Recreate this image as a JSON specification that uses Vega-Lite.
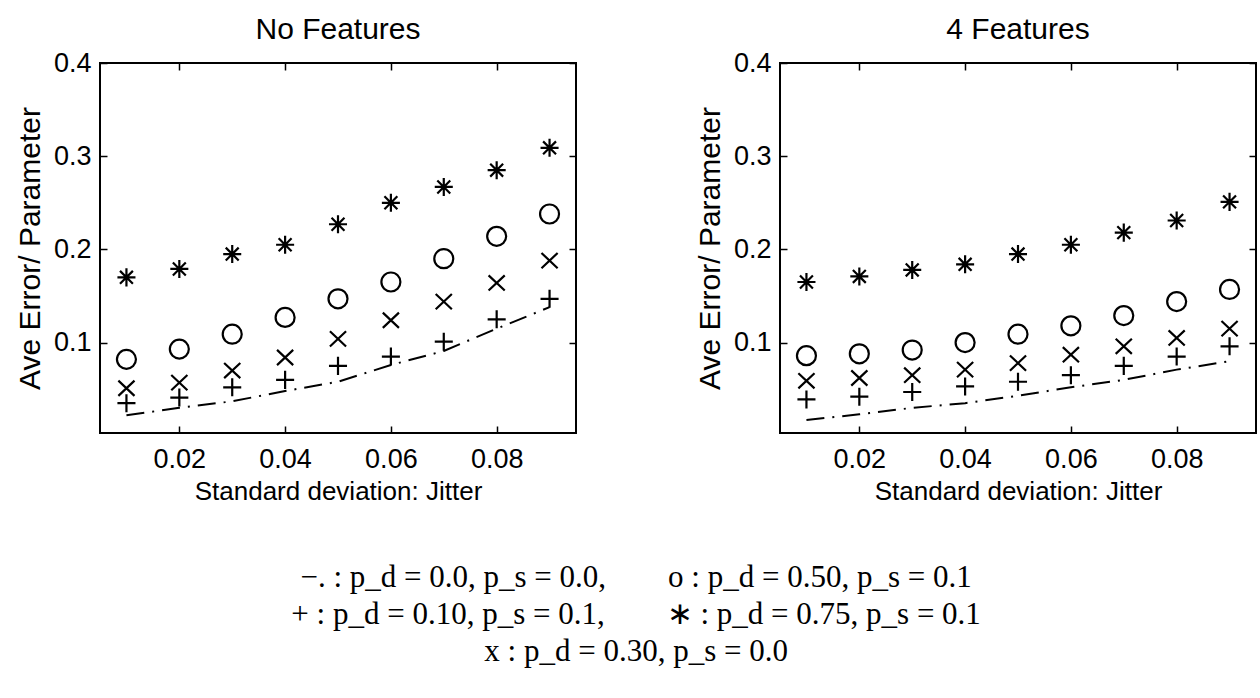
{
  "$schema": "https://vega.github.io/schema/vega-lite/v6.json",
  "background": "white",
  "padding": {"left": 14, "top": 14, "right": 2, "bottom": 4},
  "datasets": {
    "pts": [
      {"panel": "No Features", "series": "star", "sd": 0.01, "err": 0.170},
      {"panel": "No Features", "series": "star", "sd": 0.02, "err": 0.179},
      {"panel": "No Features", "series": "star", "sd": 0.03, "err": 0.195},
      {"panel": "No Features", "series": "star", "sd": 0.04, "err": 0.205},
      {"panel": "No Features", "series": "star", "sd": 0.05, "err": 0.227},
      {"panel": "No Features", "series": "star", "sd": 0.06, "err": 0.250},
      {"panel": "No Features", "series": "star", "sd": 0.07, "err": 0.267},
      {"panel": "No Features", "series": "star", "sd": 0.08, "err": 0.285},
      {"panel": "No Features", "series": "star", "sd": 0.09, "err": 0.309},
      {"panel": "No Features", "series": "circle", "sd": 0.01, "err": 0.082},
      {"panel": "No Features", "series": "circle", "sd": 0.02, "err": 0.093},
      {"panel": "No Features", "series": "circle", "sd": 0.03, "err": 0.109},
      {"panel": "No Features", "series": "circle", "sd": 0.04, "err": 0.127},
      {"panel": "No Features", "series": "circle", "sd": 0.05, "err": 0.147},
      {"panel": "No Features", "series": "circle", "sd": 0.06, "err": 0.165},
      {"panel": "No Features", "series": "circle", "sd": 0.07, "err": 0.190},
      {"panel": "No Features", "series": "circle", "sd": 0.08, "err": 0.214},
      {"panel": "No Features", "series": "circle", "sd": 0.09, "err": 0.238},
      {"panel": "No Features", "series": "x", "sd": 0.01, "err": 0.051},
      {"panel": "No Features", "series": "x", "sd": 0.02, "err": 0.057},
      {"panel": "No Features", "series": "x", "sd": 0.03, "err": 0.070},
      {"panel": "No Features", "series": "x", "sd": 0.04, "err": 0.084},
      {"panel": "No Features", "series": "x", "sd": 0.05, "err": 0.104},
      {"panel": "No Features", "series": "x", "sd": 0.06, "err": 0.124},
      {"panel": "No Features", "series": "x", "sd": 0.07, "err": 0.144},
      {"panel": "No Features", "series": "x", "sd": 0.08, "err": 0.164},
      {"panel": "No Features", "series": "x", "sd": 0.09, "err": 0.188},
      {"panel": "No Features", "series": "plus", "sd": 0.01, "err": 0.035},
      {"panel": "No Features", "series": "plus", "sd": 0.02, "err": 0.041},
      {"panel": "No Features", "series": "plus", "sd": 0.03, "err": 0.052},
      {"panel": "No Features", "series": "plus", "sd": 0.04, "err": 0.060},
      {"panel": "No Features", "series": "plus", "sd": 0.05, "err": 0.075},
      {"panel": "No Features", "series": "plus", "sd": 0.06, "err": 0.085},
      {"panel": "No Features", "series": "plus", "sd": 0.07, "err": 0.101},
      {"panel": "No Features", "series": "plus", "sd": 0.08, "err": 0.125},
      {"panel": "No Features", "series": "plus", "sd": 0.09, "err": 0.147},
      {"panel": "No Features", "series": "line", "sd": 0.01, "err": 0.022},
      {"panel": "No Features", "series": "line", "sd": 0.02, "err": 0.030},
      {"panel": "No Features", "series": "line", "sd": 0.03, "err": 0.037},
      {"panel": "No Features", "series": "line", "sd": 0.04, "err": 0.048},
      {"panel": "No Features", "series": "line", "sd": 0.05, "err": 0.058},
      {"panel": "No Features", "series": "line", "sd": 0.06, "err": 0.076},
      {"panel": "No Features", "series": "line", "sd": 0.07, "err": 0.091},
      {"panel": "No Features", "series": "line", "sd": 0.08, "err": 0.115},
      {"panel": "No Features", "series": "line", "sd": 0.09, "err": 0.138},
      {"panel": "4 Features", "series": "star", "sd": 0.01, "err": 0.165},
      {"panel": "4 Features", "series": "star", "sd": 0.02, "err": 0.171},
      {"panel": "4 Features", "series": "star", "sd": 0.03, "err": 0.178},
      {"panel": "4 Features", "series": "star", "sd": 0.04, "err": 0.184},
      {"panel": "4 Features", "series": "star", "sd": 0.05, "err": 0.195},
      {"panel": "4 Features", "series": "star", "sd": 0.06, "err": 0.205},
      {"panel": "4 Features", "series": "star", "sd": 0.07, "err": 0.218},
      {"panel": "4 Features", "series": "star", "sd": 0.08, "err": 0.231},
      {"panel": "4 Features", "series": "star", "sd": 0.09, "err": 0.251},
      {"panel": "4 Features", "series": "circle", "sd": 0.01, "err": 0.086},
      {"panel": "4 Features", "series": "circle", "sd": 0.02, "err": 0.088},
      {"panel": "4 Features", "series": "circle", "sd": 0.03, "err": 0.092},
      {"panel": "4 Features", "series": "circle", "sd": 0.04, "err": 0.100},
      {"panel": "4 Features", "series": "circle", "sd": 0.05, "err": 0.109},
      {"panel": "4 Features", "series": "circle", "sd": 0.06, "err": 0.118},
      {"panel": "4 Features", "series": "circle", "sd": 0.07, "err": 0.129},
      {"panel": "4 Features", "series": "circle", "sd": 0.08, "err": 0.144},
      {"panel": "4 Features", "series": "circle", "sd": 0.09, "err": 0.157},
      {"panel": "4 Features", "series": "x", "sd": 0.01, "err": 0.059},
      {"panel": "4 Features", "series": "x", "sd": 0.02, "err": 0.062},
      {"panel": "4 Features", "series": "x", "sd": 0.03, "err": 0.065},
      {"panel": "4 Features", "series": "x", "sd": 0.04, "err": 0.071},
      {"panel": "4 Features", "series": "x", "sd": 0.05, "err": 0.078},
      {"panel": "4 Features", "series": "x", "sd": 0.06, "err": 0.087},
      {"panel": "4 Features", "series": "x", "sd": 0.07, "err": 0.096},
      {"panel": "4 Features", "series": "x", "sd": 0.08, "err": 0.105},
      {"panel": "4 Features", "series": "x", "sd": 0.09, "err": 0.115},
      {"panel": "4 Features", "series": "plus", "sd": 0.01, "err": 0.039},
      {"panel": "4 Features", "series": "plus", "sd": 0.02, "err": 0.042},
      {"panel": "4 Features", "series": "plus", "sd": 0.03, "err": 0.047},
      {"panel": "4 Features", "series": "plus", "sd": 0.04, "err": 0.053},
      {"panel": "4 Features", "series": "plus", "sd": 0.05, "err": 0.058},
      {"panel": "4 Features", "series": "plus", "sd": 0.06, "err": 0.065},
      {"panel": "4 Features", "series": "plus", "sd": 0.07, "err": 0.075},
      {"panel": "4 Features", "series": "plus", "sd": 0.08, "err": 0.085},
      {"panel": "4 Features", "series": "plus", "sd": 0.09, "err": 0.096},
      {"panel": "4 Features", "series": "line", "sd": 0.01, "err": 0.017},
      {"panel": "4 Features", "series": "line", "sd": 0.02, "err": 0.023},
      {"panel": "4 Features", "series": "line", "sd": 0.03, "err": 0.030},
      {"panel": "4 Features", "series": "line", "sd": 0.04, "err": 0.035},
      {"panel": "4 Features", "series": "line", "sd": 0.05, "err": 0.043},
      {"panel": "4 Features", "series": "line", "sd": 0.06, "err": 0.052},
      {"panel": "4 Features", "series": "line", "sd": 0.07, "err": 0.060},
      {"panel": "4 Features", "series": "line", "sd": 0.08, "err": 0.071},
      {"panel": "4 Features", "series": "line", "sd": 0.09, "err": 0.080}
    ]
  },
  "title": {
    "text": [
      "−. : p_d = 0.0, p_s = 0.0,\u2003\u2003o : p_d = 0.50, p_s = 0.1",
      "+ : p_d = 0.10, p_s = 0.1,\u2003\u2003∗ : p_d = 0.75, p_s = 0.1",
      "x : p_d = 0.30, p_s = 0.0"
    ],
    "orient": "bottom",
    "anchor": "middle",
    "font": "Liberation Serif",
    "fontSize": 31,
    "fontWeight": "normal",
    "lineHeight": 37,
    "offset": 58,
    "color": "black"
  },
  "spacing": 116,
  "hconcat": [
    {
      "width": 476,
      "height": 370,
      "title": {"text": "No Features"},
      "data": {"name": "pts"},
      "transform": [{"filter": "datum.panel === 'No Features'"}],
      "layer": [
        {
          "transform": [{"filter": "datum.series === 'line'"}],
          "mark": {"type": "line", "color": "black", "strokeWidth": 2, "strokeDash": [18, 8, 2, 8]},
          "encoding": {
            "x": {"field": "sd", "type": "quantitative", "scale": {"domain": [0.005, 0.095], "nice": false, "zero": false},
                  "axis": {"orient": "top", "labels": false, "title": null, "values": [0.02, 0.04, 0.06, 0.08]}},
            "y": {"field": "err", "type": "quantitative", "scale": {"domain": [0.003, 0.4], "nice": false, "zero": false},
                  "axis": {"orient": "right", "labels": false, "title": null, "values": [0.1, 0.2, 0.3, 0.4]}}
          }
        },
        {
          "transform": [{"filter": "datum.series !== 'line'"}],
          "mark": {"type": "point", "filled": false, "color": "black", "opacity": 1, "size": 361},
          "encoding": {
            "x": {"field": "sd", "type": "quantitative", "title": "Standard deviation: Jitter",
                  "axis": {"orient": "bottom", "values": [0.02, 0.04, 0.06, 0.08], "format": ".2f", "labelPadding": 20, "titleFontSize": 26}},
            "y": {"field": "err", "type": "quantitative", "title": "Ave Error/ Parameter",
                  "axis": {"orient": "left", "values": [0.1, 0.2, 0.3, 0.4], "format": ".1f", "labelPadding": 16, "titleFontSize": 30, "titlePadding": 8}},
            "shape": {"field": "series", "type": "nominal", "legend": null,
                      "scale": {"domain": ["plus", "x", "circle", "star"],
                                "range": ["M-0.95,0L0.95,0M0,-0.95L0,0.95", "M-0.85,-0.8L0.85,0.8M-0.85,0.8L0.85,-0.8", "circle", "M0,-0.95L0,0.95M-0.95,0L0.95,0M-0.68,-0.68L0.68,0.68M-0.68,0.68L0.68,-0.68"]}},
            "strokeWidth": {"field": "series", "type": "nominal", "legend": null,
                            "scale": {"domain": ["plus", "x", "circle", "star"], "range": [2.2, 2.2, 2.2, 3.4]}}
          }
        }
      ],
      "resolve": {"axis": {"x": "independent", "y": "independent"}}
    },
    {
      "width": 476,
      "height": 370,
      "title": {"text": "4 Features"},
      "data": {"name": "pts"},
      "transform": [{"filter": "datum.panel === '4 Features'"}],
      "layer": [
        {
          "transform": [{"filter": "datum.series === 'line'"}],
          "mark": {"type": "line", "color": "black", "strokeWidth": 2, "strokeDash": [18, 8, 2, 8]},
          "encoding": {
            "x": {"field": "sd", "type": "quantitative", "scale": {"domain": [0.005, 0.095], "nice": false, "zero": false},
                  "axis": {"orient": "top", "labels": false, "title": null, "values": [0.02, 0.04, 0.06, 0.08]}},
            "y": {"field": "err", "type": "quantitative", "scale": {"domain": [0.003, 0.4], "nice": false, "zero": false},
                  "axis": {"orient": "right", "labels": false, "title": null, "values": [0.1, 0.2, 0.3, 0.4]}}
          }
        },
        {
          "transform": [{"filter": "datum.series !== 'line'"}],
          "mark": {"type": "point", "filled": false, "color": "black", "opacity": 1, "size": 361},
          "encoding": {
            "x": {"field": "sd", "type": "quantitative", "title": "Standard deviation: Jitter",
                  "axis": {"orient": "bottom", "values": [0.02, 0.04, 0.06, 0.08], "format": ".2f", "labelPadding": 20, "titleFontSize": 26}},
            "y": {"field": "err", "type": "quantitative", "title": "Ave Error/ Parameter",
                  "axis": {"orient": "left", "values": [0.1, 0.2, 0.3, 0.4], "format": ".1f", "labelPadding": 16, "titleFontSize": 30, "titlePadding": 8}},
            "shape": {"field": "series", "type": "nominal", "legend": null,
                      "scale": {"domain": ["plus", "x", "circle", "star"],
                                "range": ["M-0.95,0L0.95,0M0,-0.95L0,0.95", "M-0.85,-0.8L0.85,0.8M-0.85,0.8L0.85,-0.8", "circle", "M0,-0.95L0,0.95M-0.95,0L0.95,0M-0.68,-0.68L0.68,0.68M-0.68,0.68L0.68,-0.68"]}},
            "strokeWidth": {"field": "series", "type": "nominal", "legend": null,
                            "scale": {"domain": ["plus", "x", "circle", "star"], "range": [2.2, 2.2, 2.2, 3.4]}}
          }
        }
      ],
      "resolve": {"axis": {"x": "independent", "y": "independent"}}
    }
  ],
  "config": {
    "view": {"stroke": "black", "strokeWidth": 2},
    "font": "Liberation Sans",
    "axis": {
      "labelFont": "Liberation Sans", "labelFontSize": 27, "labelColor": "black",
      "titleFont": "Liberation Sans", "titleFontSize": 26, "titleFontWeight": "normal", "titleColor": "black",
      "tickColor": "black", "tickSize": -7, "tickWidth": 1.5, "labelPadding": 10, "titlePadding": 6,
      "domain": false, "grid": false
    },
    "title": {"font": "Liberation Sans", "fontSize": 30, "fontWeight": "normal", "color": "black", "offset": 0}
  }
}
